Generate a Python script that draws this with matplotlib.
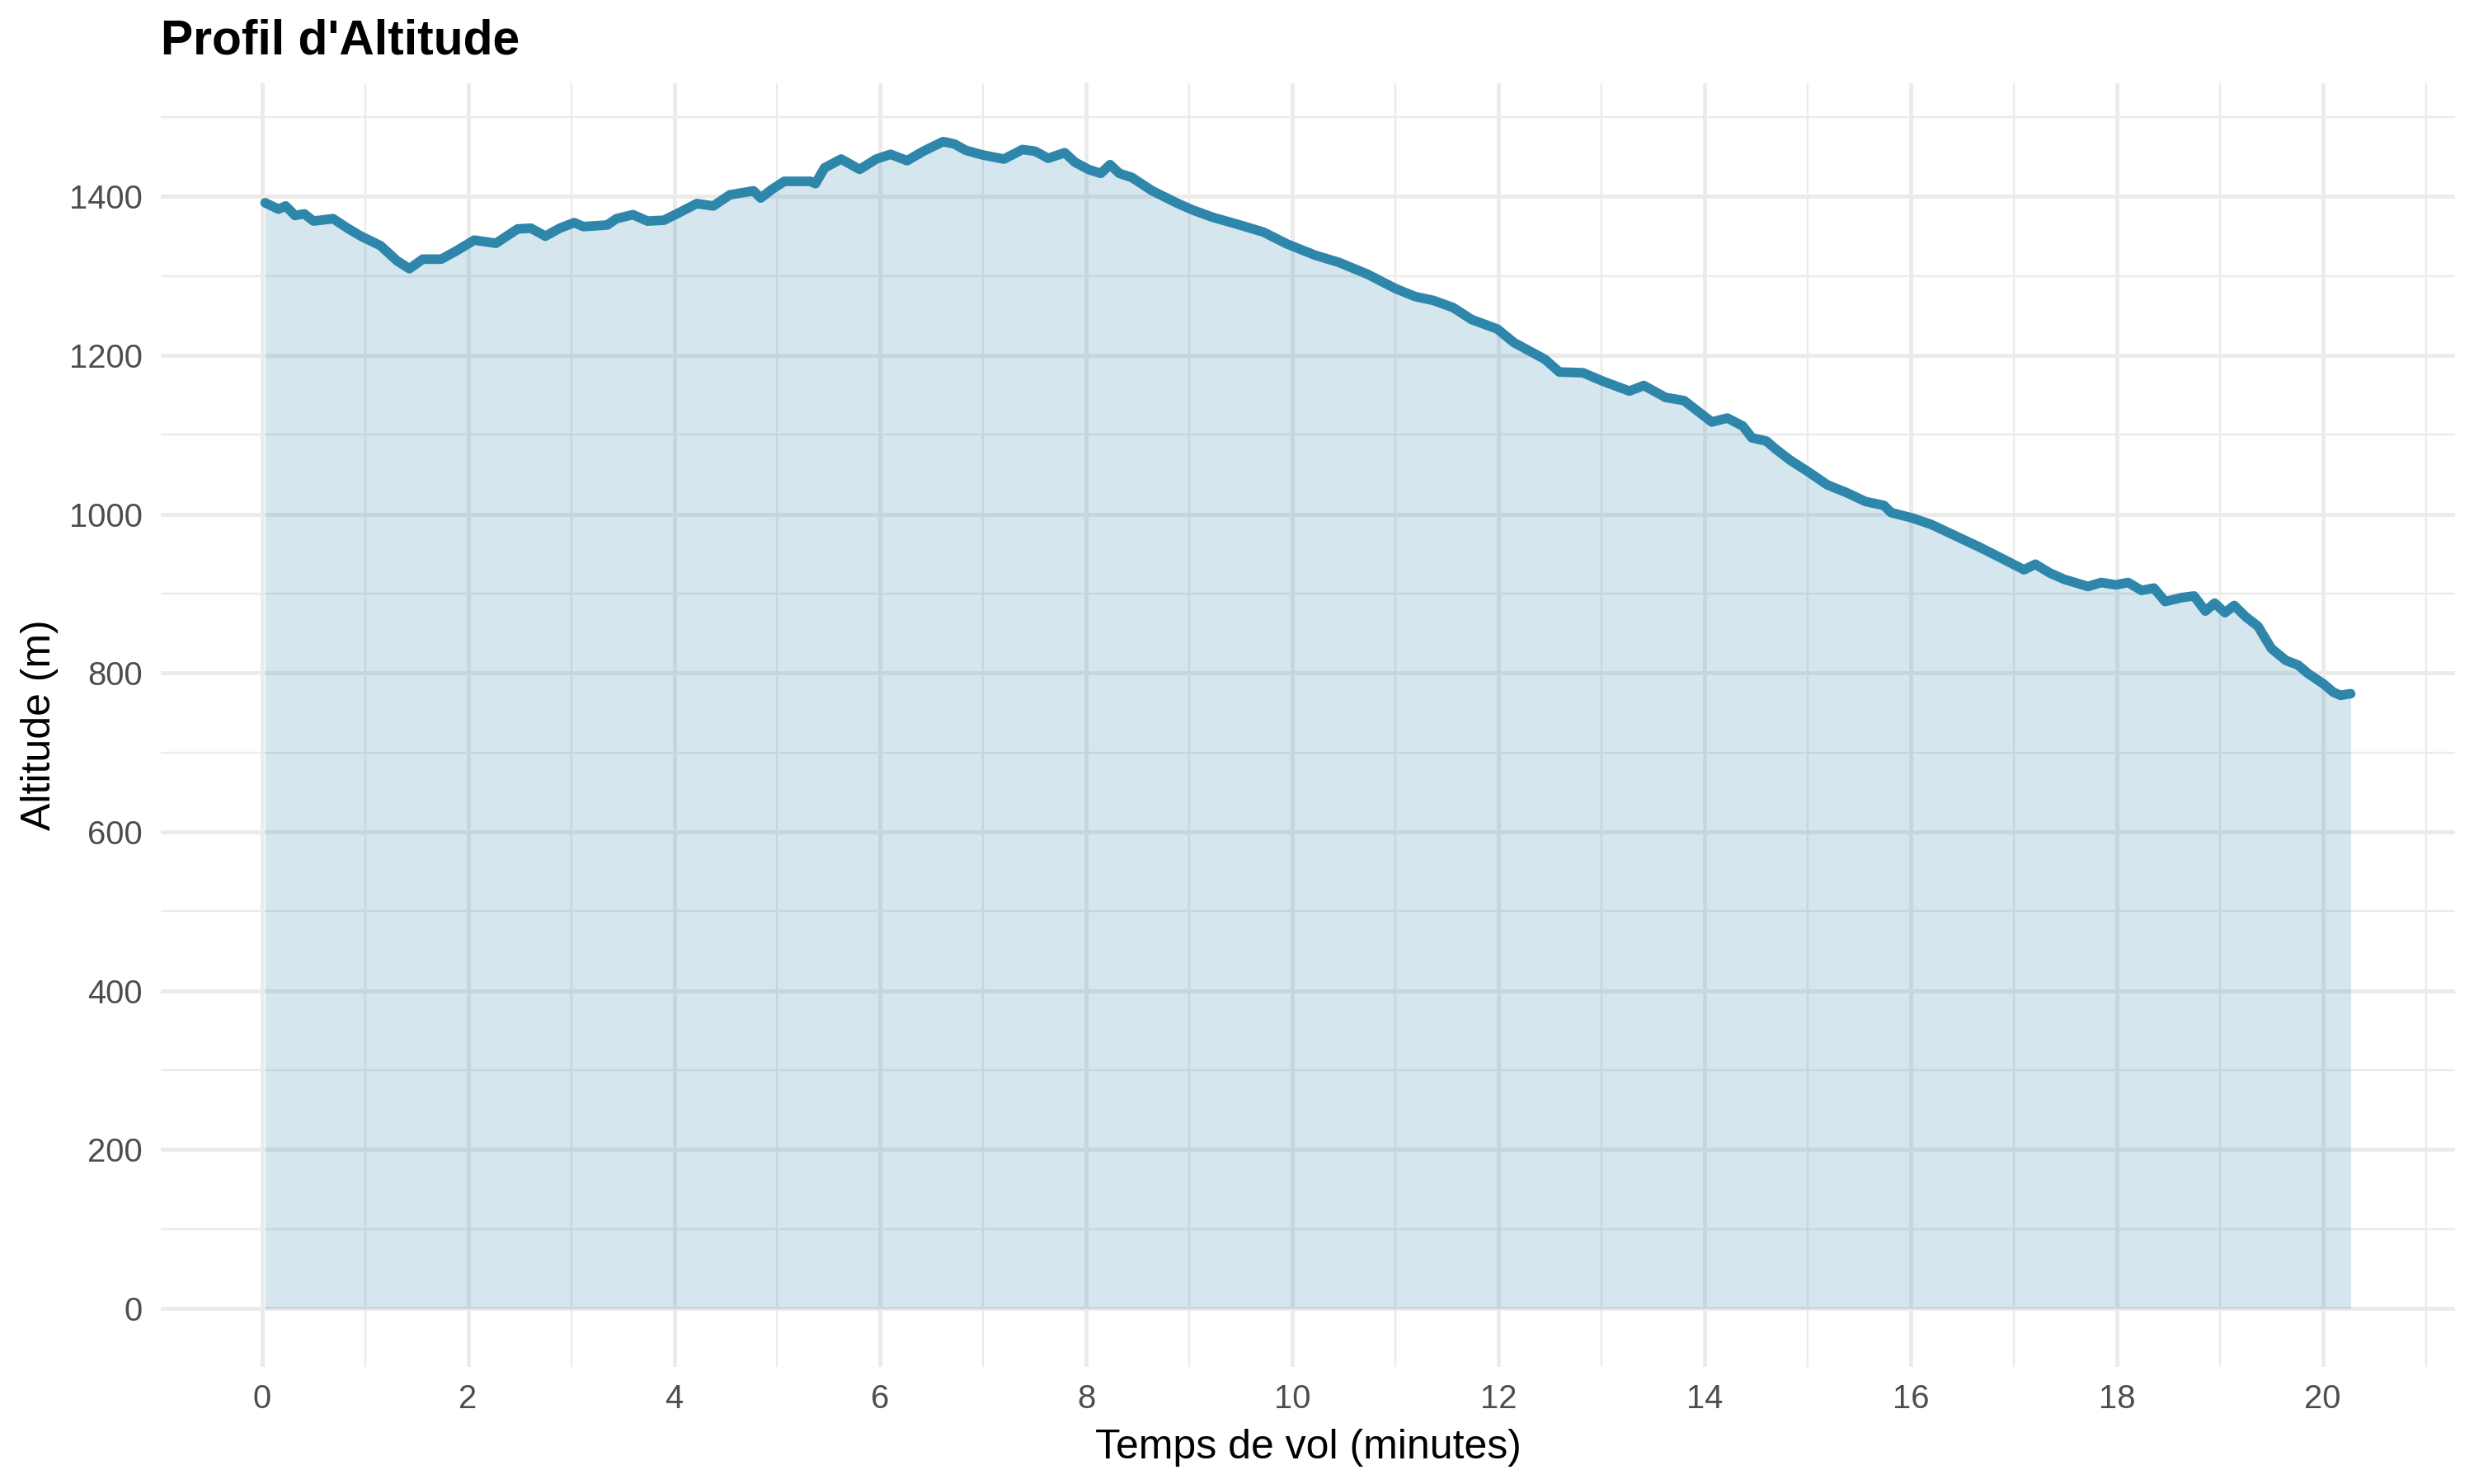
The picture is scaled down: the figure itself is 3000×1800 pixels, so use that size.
import numpy as np
import matplotlib.pyplot as plt
from matplotlib.ticker import MultipleLocator

plt.rcParams['font.family'] = ['Liberation Sans', 'DejaVu Sans']

# temps de vol (minutes) et altitude (m)
temps = [0.03, 0.16, 0.23, 0.32, 0.41, 0.50, 0.69, 0.83, 0.96, 1.15,
         1.31, 1.43, 1.56, 1.74, 1.88, 2.06, 2.27, 2.48, 2.61, 2.75,
         2.89, 3.03, 3.12, 3.35, 3.44, 3.60, 3.74, 3.90, 4.04, 4.22,
         4.38, 4.54, 4.77, 4.84, 4.95, 5.07, 5.32, 5.37, 5.46, 5.62,
         5.80, 5.96, 6.10, 6.26, 6.42, 6.61, 6.72, 6.83, 7.00, 7.20,
         7.38, 7.50, 7.63, 7.79, 7.89, 8.02, 8.14, 8.23, 8.32, 8.44,
         8.64, 8.89, 9.03, 9.22, 9.49, 9.72, 9.95, 10.22, 10.45, 10.73,
         11.00, 11.19, 11.37, 11.56, 11.74, 11.99, 12.15, 12.45, 12.59, 12.82,
         13.02, 13.27, 13.41, 13.62, 13.80, 14.07, 14.22, 14.37, 14.46, 14.60,
         14.69, 14.83, 15.01, 15.19, 15.38, 15.56, 15.74, 15.81, 16.02, 16.20,
         16.43, 16.66, 16.89, 17.10, 17.21, 17.35, 17.49, 17.72, 17.85, 17.99,
         18.11, 18.24, 18.36, 18.47, 18.63, 18.75, 18.86, 18.95, 19.05, 19.14,
         19.25, 19.37, 19.50, 19.64, 19.76, 19.85, 20.01, 20.10, 20.17, 20.27]
altitude = [1392, 1384, 1388, 1376, 1378, 1369, 1372, 1360, 1350, 1338,
            1319, 1309, 1321, 1321, 1331, 1345, 1341, 1359, 1360, 1350,
            1360, 1367, 1362, 1364, 1372, 1377, 1369, 1370, 1379, 1391,
            1388, 1402, 1407, 1398, 1409, 1419, 1419, 1416, 1436, 1447,
            1434, 1447, 1453, 1445, 1457, 1469, 1466, 1458, 1452, 1447,
            1459, 1457, 1448, 1455, 1443, 1434, 1429, 1440, 1429, 1424,
            1407, 1391, 1383, 1374, 1364, 1355, 1340, 1326, 1317, 1302,
            1284, 1274, 1269, 1260, 1245, 1233, 1216, 1195, 1179, 1178,
            1167, 1155, 1162, 1147, 1143, 1116, 1121, 1111, 1096, 1092,
            1082, 1068, 1053, 1037, 1027, 1016, 1011, 1002, 995, 987,
            973, 959, 944, 930, 937, 926, 918, 909, 914, 911,
            914, 904, 907, 890, 895, 897, 878, 888, 876, 885,
            871, 859, 831, 816, 810, 800, 786, 776, 772, 774]

couleur = '#2E86AB'
grille = '#EBEBEB'

fig, ax = plt.subplots(figsize=(10, 6), dpi=300)
fig.subplots_adjust(left=0.065, right=0.9923, top=0.9439, bottom=0.0789)

ax.fill_between(temps, altitude, 0, color=couleur, alpha=0.2, linewidth=0, zorder=2)
ax.plot(temps, altitude, color=couleur, linewidth=2.8, solid_joinstyle='round',
        solid_capstyle='round', zorder=3)

# limites comme ggplot (expansion de 5 %)
x0, x1 = min(temps), max(temps)
dx = 0.05 * (x1 - x0)
ax.set_xlim(x0 - dx, x1 + dx)
ymax = max(altitude)
ax.set_ylim(-0.05 * ymax, ymax * 1.05)

ax.xaxis.set_major_locator(MultipleLocator(2))
ax.xaxis.set_minor_locator(MultipleLocator(1))
ax.yaxis.set_major_locator(MultipleLocator(200))
ax.yaxis.set_minor_locator(MultipleLocator(100))

ax.grid(which='major', color=grille, linewidth=1.16, zorder=0)
ax.grid(which='minor', color=grille, linewidth=0.58, zorder=0)
ax.set_axisbelow(True)
for s in ax.spines.values():
    s.set_visible(False)
ax.tick_params(which='both', length=0)
ax.tick_params(axis='x', pad=4.8, labelsize=9.6, labelcolor='#4D4D4D')
ax.tick_params(axis='y', pad=5.3, labelsize=9.6, labelcolor='#4D4D4D')

ax.set_xlabel('Temps de vol (minutes)', fontsize=12, labelpad=4)
ax.set_ylabel('Altitude (m)', fontsize=12, labelpad=3)
ax.set_title("Profil d'Altitude", loc='left', fontsize=14.1, fontweight='bold', pad=8.5)

plt.savefig('out.png', dpi=300)
